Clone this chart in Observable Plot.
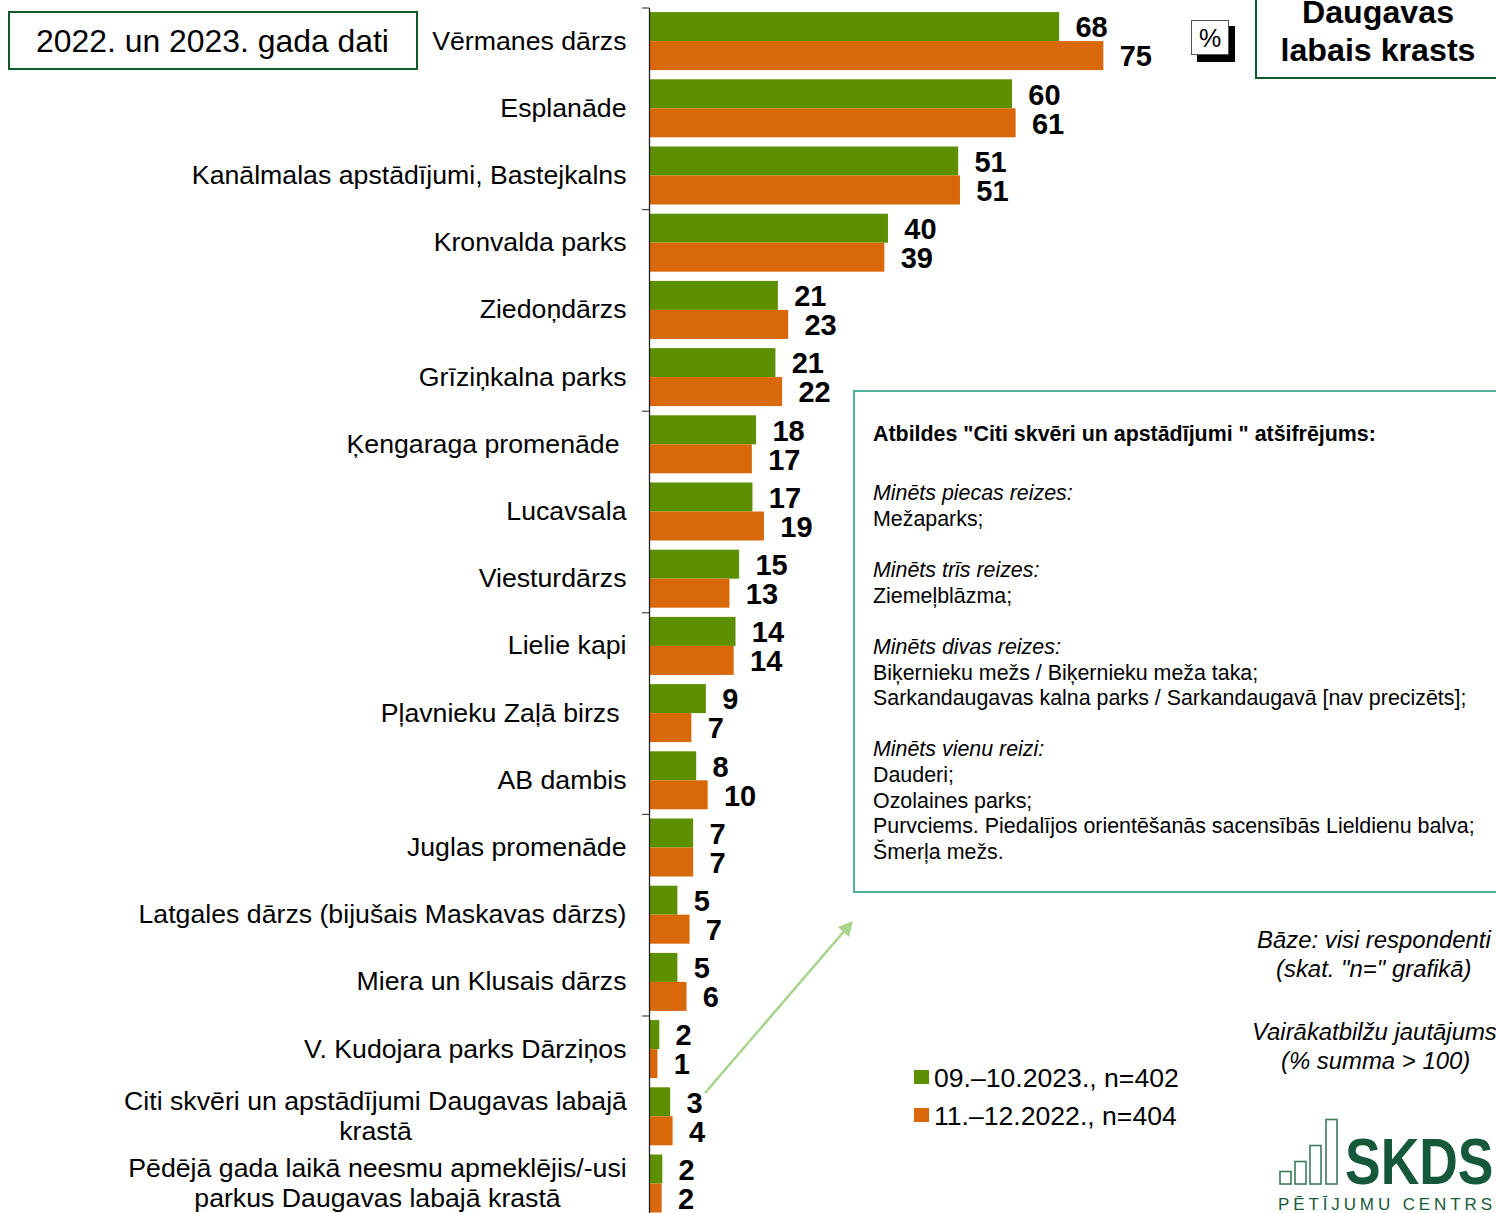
<!DOCTYPE html>
<html lang="lv">
<head>
<meta charset="utf-8">
<title>Daugavas labais krasts</title>
<script src="https://cdn.jsdelivr.net/npm/d3@7"></script>
<script src="https://cdn.jsdelivr.net/npm/@observablehq/plot@0.6"></script>
<style>
  html, body { margin: 0; padding: 0; background: #fff; overflow: hidden; }
  body { width: 1496px; height: 1213px; position: relative; font-family: "Liberation Sans", Arial, sans-serif; color: #000; }
  #chart { position: absolute; left: 0; top: 0; }
  #chart svg { display: block; font-family: "Liberation Sans", Arial, sans-serif; }
  .abs { position: absolute; box-sizing: border-box; white-space: nowrap; }
</style>
</head>
<body>
<div id="chart"></div>
<script>
const categories = [
  "Vērmanes dārzs", "Esplanāde", "Kanālmalas apstādījumi, Bastejkalns", "Kronvalda parks",
  "Ziedoņdārzs", "Grīziņkalna parks", "Ķengaraga promenāde", "Lucavsala", "Viesturdārzs",
  "Lielie kapi", "Pļavnieku Zaļā birzs", "AB dambis", "Juglas promenāde",
  "Latgales dārzs (bijušais Maskavas dārzs)", "Miera un Klusais dārzs", "V. Kudojara parks Dārziņos",
  "Citi skvēri un apstādījumi Daugavas labajā krastā",
  "Pēdējā gada laikā neesmu apmeklējis/-usi parkus Daugavas labajā krastā"
];
const values2023 = [67.8, 60, 51.1, 39.5, 21.3, 20.9, 17.7, 17.1, 14.9, 14.3, 9.4, 7.8, 7.3, 4.7, 4.7, 1.7, 3.5, 2.2];
const values2022 = [75.1, 60.6, 51.4, 38.9, 23, 22, 17, 19, 13.3, 14, 7, 9.7, 7.3, 6.7, 6.2, 1.4, 3.9, 2.1];
const labels2023 = [68, 60, 51, 40, 21, 21, 18, 17, 15, 14, 9, 8, 7, 5, 5, 2, 3, 2];
const labels2022 = [75, 61, 51, 39, 23, 22, 17, 19, 13, 14, 7, 10, 7, 7, 6, 1, 4, 2];
const seriesNames = ["09.–10.2023., n=402", "11.–12.2022., n=404"];
const seriesColors = ["#5c9000", "#d9680a"];
const tickCategories = categories.filter((_, i) => i % 3 === 0);

// labels: single line items, right aligned; the two-line items are centred on themselves
const singleLine = categories.slice(0, 16).map((name, i) => ({name, i}));
const twoLine = [
  {name: categories[16], lines: ["Citi skvēri un apstādījumi Daugavas labajā", "krastā"], off: -274},
  {name: categories[17], lines: ["Pēdējā gada laikā neesmu apmeklējis/-usi", "parkus Daugavas labajā krastā"], off: -272}
];
const nudged = new Set(["Ķengaraga promenāde", "Pļavnieku Zaļā birzs"]);

const rows23 = categories.map((c, i) => ({c, v: values2023[i], l: labels2023[i]}));
const rows22 = categories.map((c, i) => ({c, v: values2022[i], l: labels2022[i]}));
const half = 29;

const chart = Plot.plot({
  width: 1496, height: 1213,
  marginTop: 8, marginBottom: 0, marginLeft: 0, marginRight: 0,
  x: {domain: [0, 140], range: [649, 649 + 140 * 6.05], axis: null},
  y: {domain: categories, range: [7.5, 1217.1], paddingInner: 0.137, paddingOuter: 0.0685, align: 0.5, round: false, axis: null},
  marks: [
    Plot.barX(rows23, {x: "v", y: "c", fill: seriesColors[0], insetBottom: half}),
    Plot.barX(rows22, {x: "v", y: "c", fill: seriesColors[1], insetTop: half}),
    Plot.ruleX([0], {stroke: "#222", strokeWidth: 1.3}),
    Plot.ruleY(tickCategories, {y: d => d, x1: -1.15, x2: 0, dy: -33.6, stroke: "#333", strokeWidth: 1.1}),
    Plot.text(rows23, {x: "v", y: "c", text: "l", textAnchor: "start", dx: 15.8, dy: -13.4, fontSize: 29, fontWeight: "bold", fill: "#000"}),
    Plot.text(rows22, {x: "v", y: "c", text: "l", textAnchor: "start", dx: 15.8, dy: 15.6, fontSize: 29, fontWeight: "bold", fill: "#000"}),
    Plot.text(singleLine, {x: 0, y: "name", text: "name", textAnchor: "end",
      fontSize: 26.7, fill: "#000", filter: d => !nudged.has(d.name), dx: -23, dy: -0.6}),
    Plot.text(singleLine, {x: 0, y: "name", text: "name", textAnchor: "end",
      fontSize: 26.7, fill: "#000", filter: d => nudged.has(d.name), dx: -30, dy: -0.6}),
    Plot.text(twoLine.slice(0, 1), {x: 0, y: "name", text: d => d.lines.join("\n"), textAnchor: "middle",
      lineHeight: 1.12, fontSize: 26.7, fill: "#000", dx: twoLine[0].off, dy: -1.3}),
    Plot.text(twoLine.slice(1), {x: 0, y: "name", text: d => d.lines.join("\n"), textAnchor: "middle",
      lineHeight: 1.12, fontSize: 26.7, fill: "#000", dx: twoLine[1].off, dy: -1.3})
  ]
});
document.getElementById("chart").append(chart);

// ---- surrounding notes and boxes ----
function add(css, html, cls = "abs") {
  const d = document.createElement("div");
  d.className = cls;
  d.style.cssText = css;
  d.innerHTML = html;
  document.body.append(d);
  return d;
}
const dark = "#0d5a26";
add(`left:7.5px;top:10.5px;width:410px;height:59.5px;border:2.5px solid ${dark};background:#fff;font-size:31.9px;text-align:center;line-height:56px;`,
  "2022. un 2023. gada dati");
add(`left:1255px;top:-40px;width:260px;height:119px;border:2.5px solid ${dark};background:#fff;`, "");
add(`left:1258px;top:-6px;width:240px;text-align:center;font-size:32.2px;font-weight:bold;line-height:37.5px;`, "Daugavas<br>labais krasts");
add(`left:1197px;top:26px;width:38px;height:36px;background:#000;`, "");
add(`left:1191px;top:20px;width:38px;height:35px;background:#fff;border:1px solid #555;text-align:center;font-size:25px;line-height:34px;`, "%");

add(`left:853px;top:390px;width:660px;height:503px;border:2px solid #4fb09b;background:#fff;`, "");
const noteLines = [
  [434, "Atbildes \"Citi skvēri un apstādījumi \" atšifrējums:", "b"],
  [493, "Minēts piecas reizes:", "i"],
  [519, "Mežaparks;", ""],
  [570, "Minēts trīs reizes:", "i"],
  [596, "Ziemeļblāzma;", ""],
  [647, "Minēts divas reizes:", "i"],
  [673, "Biķernieku mežs / Biķernieku meža taka;", ""],
  [698, "Sarkandaugavas kalna parks / Sarkandaugavā [nav precizēts];", ""],
  [749, "Minēts vienu reizi:", "i"],
  [775, "Dauderi;", ""],
  [801, "Ozolaines parks;", ""],
  [826, "Purvciems. Piedalījos orientēšanās sacensībās Lieldienu balva;", ""],
  [852, "Šmerļa mežs.", ""]
];
for (const [y, t, s] of noteLines) {
  add(`left:873px;top:${y - 13}px;line-height:26px;font-size:21.4px;` +
      (s === "b" ? "font-weight:bold;" : "") + (s === "i" ? "font-style:italic;" : ""), t);
}

// legend
add(`left:914px;top:1070px;width:15px;height:14px;background:${seriesColors[0]};`, "");
add(`left:914px;top:1108px;width:15px;height:14px;background:${seriesColors[1]};`, "");
add(`left:934px;top:1063px;font-size:26.6px;line-height:31px;`, seriesNames[0]);
add(`left:934px;top:1101px;font-size:26.6px;line-height:31px;`, seriesNames[1]);

// base note
const noteStyle = "font-size:23.9px;font-style:italic;line-height:28px;";
add(`left:1257px;top:926px;${noteStyle}`, "Bāze: visi respondenti");
add(`left:1276px;top:955px;${noteStyle}`, "(skat. \"n=\" grafikā)");
add(`left:1252px;top:1018px;${noteStyle}`, "Vairākatbilžu jautājums");
add(`left:1281px;top:1047px;${noteStyle}`, "(% summa > 100)");

// arrow + logo
const ns = "http://www.w3.org/2000/svg";
const overlay = document.createElementNS(ns, "svg");
overlay.setAttribute("width", 1496);
overlay.setAttribute("height", 1213);
overlay.style.cssText = "position:absolute;left:0;top:0;pointer-events:none;";
const logoGreen = "#15583a";
overlay.innerHTML = `
  <line x1="705" y1="1093" x2="846" y2="929" stroke="#a8d48c" stroke-width="2.6"/>
  <polygon points="853,921 849,937 838,927" fill="#a8d48c"/>
  <g fill="#fff" stroke="#3f7a5c" stroke-width="1.6">
    <rect x="1280" y="1171.5" width="11" height="12.5"/>
    <rect x="1295" y="1161.5" width="11" height="22.5"/>
    <rect x="1310" y="1145.5" width="11" height="38.5"/>
    <rect x="1326" y="1119.5" width="11" height="64.5"/>
  </g>
  <text transform="translate(1345,1184) scale(0.835,1)" font-family="Liberation Sans" font-weight="bold" font-size="64" fill="${logoGreen}">SKDS</text>
  <text x="1278" y="1210" font-family="Liberation Sans" font-size="17" fill="${logoGreen}" textLength="214" lengthAdjust="spacing">PĒTĪJUMU CENTRS</text>`;
document.body.append(overlay);
</script>
</body>
</html>
